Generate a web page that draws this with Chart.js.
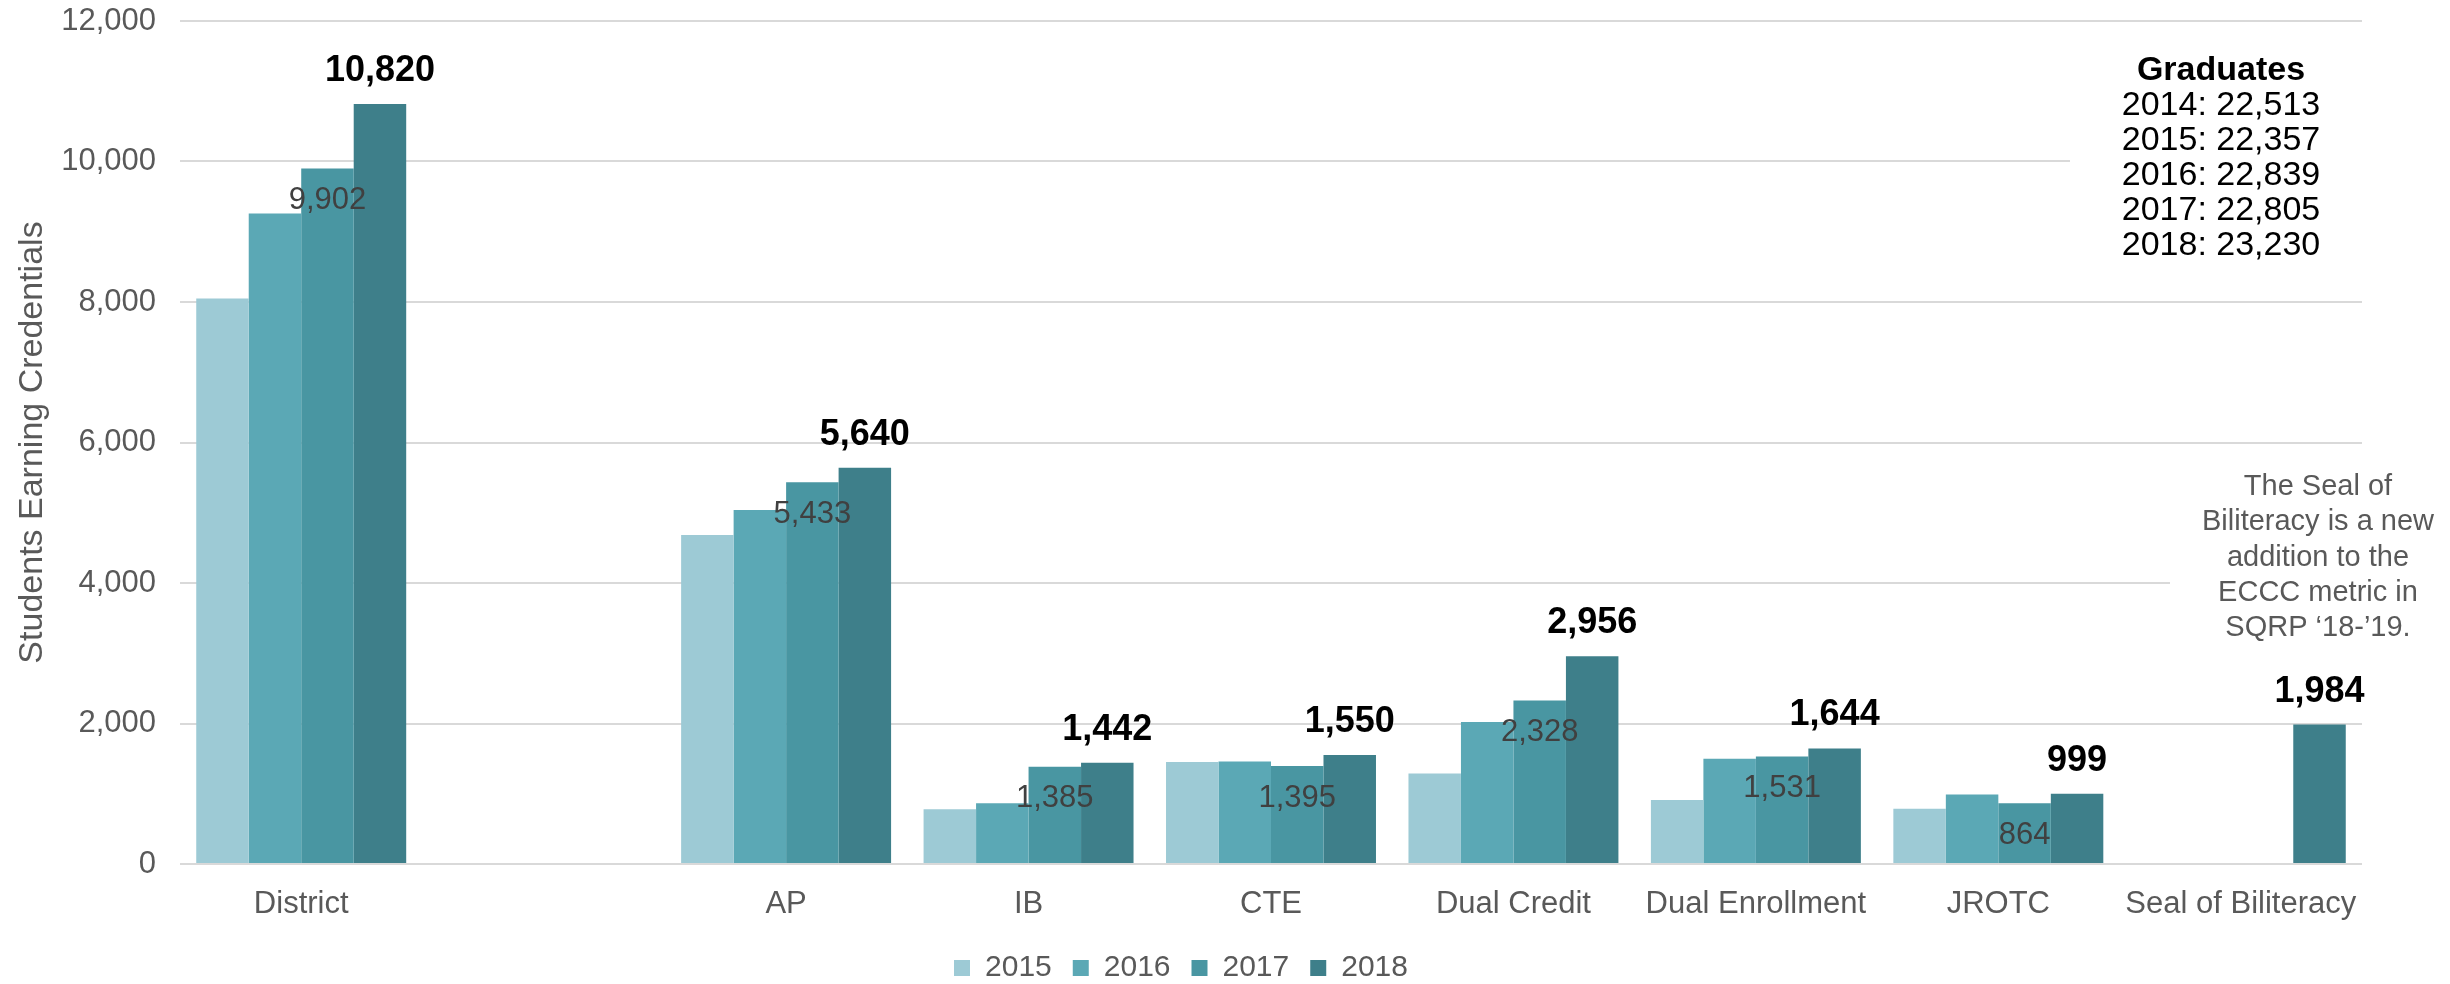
<!DOCTYPE html>
<html>
<head>
<meta charset="utf-8">
<title>Students Earning Credentials</title>
<script src="https://cdn.jsdelivr.net/npm/chart.js@4.4.0/dist/chart.umd.min.js"></script>
<style>
  html, body { margin: 0; padding: 0; background: #fff; }
  #wrap { width: 2450px; height: 984px; }
</style>
</head>
<body>
<div id="wrap"><canvas id="credChart"></canvas></div>
<script>
const categories = ["District", "", "AP", "IB", "CTE", "Dual Credit", "Dual Enrollment", "JROTC", "Seal of Biliteracy"];
const years = ["2015", "2016", "2017", "2018"];
const values2015 = [8050, null, 4685, 778, 1452, 1288, 910, 786, null];
const values2016 = [9260, null, 5040, 866, 1458, 2022, 1500, 990, null];
const values2017 = [9902, null, 5433, 1385, 1395, 2328, 1531, 864, null];
const values2018 = [10820, null, 5640, 1442, 1550, 2956, 1644, 999, 1984];
const barColors = ["#9dcad5", "#5ba8b5", "#4996a2", "#3e7f8a"];
const graduates = ["2014: 22,513", "2015: 22,357", "2016: 22,839", "2017: 22,805", "2018: 23,230"];
const sealNote = ["The Seal of", "Biliteracy is a new", "addition to the", "ECCC metric in", "SQRP \u201818-\u201919."];

const FONT = "'Liberation Sans', Arial, sans-serif";
const fmt = v => v.toLocaleString("en-US");

// value labels: 2017 inside bar top, 2018 bold above bar
const valueLabels = {
  id: "valueLabels",
  afterDatasetsDraw(chart) {
    const ctx = chart.ctx;
    ctx.save();
    ctx.textAlign = "center";
    ctx.textBaseline = "middle";

    ctx.font = "31px " + FONT;
    ctx.fillStyle = "#404040";
    chart.getDatasetMeta(2).data.forEach((bar, i) => {
      if (values2017[i] == null) return;
      ctx.fillText(fmt(values2017[i]), bar.x, bar.y + 32);
    });

    ctx.font = "bold 36px " + FONT;
    ctx.fillStyle = "#000";
    chart.getDatasetMeta(3).data.forEach((bar, i) => {
      if (values2018[i] == null) return;
      ctx.fillText(fmt(values2018[i]), bar.x, bar.y - 33);
    });
    ctx.restore();
  }
};

// text boxes on the right side
const notes = {
  id: "notes",
  beforeDatasetsDraw(chart) {
    const ctx = chart.ctx;
    ctx.save();
    ctx.fillStyle = "#fff";
    ctx.fillRect(2070, 45, 380, 225);
    ctx.fillRect(2170, 465, 280, 185);

    ctx.textAlign = "center";
    ctx.textBaseline = "middle";
    ctx.fillStyle = "#000";
    ctx.font = "bold 34px " + FONT;
    ctx.fillText("Graduates", 2221, 71);
    ctx.font = "34px " + FONT;
    graduates.forEach((t, i) => ctx.fillText(t, 2221, 106 + i * 35));

    ctx.fillStyle = "#595959";
    ctx.font = "29px " + FONT;
    sealNote.forEach((t, i) => ctx.fillText(t, 2318, 487 + i * 35.3));
    ctx.restore();
  }
};

new Chart(document.getElementById("credChart"), {
  type: "bar",
  data: {
    labels: categories,
    datasets: years.map((y, k) => ({
      label: y,
      data: [values2015, values2016, values2017, values2018][k],
      backgroundColor: barColors[k],
      categoryPercentage: 0.866,
      barPercentage: 1.0
    }))
  },
  options: {
    responsive: true,
    maintainAspectRatio: false,
    animation: false,
    layout: { padding: { top: 21, right: 88, left: 0, bottom: -9 } },
    plugins: {
      legend: {
        position: "bottom",
        labels: {
          boxWidth: 16,
          boxHeight: 16,
          padding: 21,
          color: "#595959",
          font: { family: FONT, size: 30 }
        }
      },
      tooltip: { enabled: false }
    },
    scales: {
      x: {
        grid: { display: false },
        border: { display: false },
        ticks: { color: "#595959", padding: 14, maxRotation: 0, autoSkip: false, font: { family: FONT, size: 31 } },
        afterFit(scale) { scale.height = 68; }
      },
      y: {
        min: 0,
        max: 12000,
        ticks: {
          stepSize: 2000,
          padding: 24,
          color: "#595959",
          font: { family: FONT, size: 31 },
          callback: v => fmt(v)
        },
        grid: { color: "#d9d9d9", lineWidth: 2, drawTicks: false },
        border: { display: false },
        title: {
          display: true,
          text: "Students Earning Credentials",
          color: "#595959",
          font: { family: FONT, size: 34 },
          padding: { top: 12, bottom: 0 }
        },
        afterFit(scale) {
          scale.width = 180;
          scale.paddingTop = 0;
          scale.paddingBottom = 0;
        }
      }
    }
  },
  plugins: [notes, valueLabels]
});
</script>
</body>
</html>
